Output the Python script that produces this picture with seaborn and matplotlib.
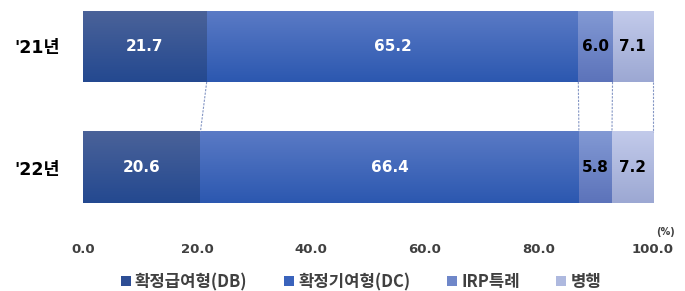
import matplotlib
matplotlib.use("Agg")
import matplotlib.pyplot as plt
import seaborn as sns
import numpy as np
import pandas as pd
from matplotlib.colors import to_rgb

years = ["'21년", "'22년"]
series = ["확정급여형(DB)", "확정기여형(DC)", "IRP특례", "병행"]
db = [21.7, 20.6]
dc = [65.2, 66.4]
irp = [6.0, 5.8]
both = [7.1, 7.2]
xticks = [0, 20, 40, 60, 80, 100]

colors = ["#2E4E95", "#3A63BC", "#6F87C9", "#AEB9DF"]
tops = ["#4A6299", "#5A7AC5", "#8299D4", "#C2CAEA"]
bottoms = ["#244990", "#2C58B0", "#5C73BA", "#9CA8D3"]
label_colors = ["white", "white", "black", "black"]

sns.set_theme(style="white")
plt.rcParams['font.family'] = ['DejaVu Sans', 'Noto Sans CJK KR']

vals = np.array([db, dc, irp, both])
cum = np.cumsum(vals, axis=0)

fig = plt.figure(figsize=(6.85, 2.91), dpi=100)
W, H = 685, 291
ax = fig.add_axes([83 / W, 1 - 232 / H, (653 - 83) / W, (232 - 5) / H])

bar_h = 71 / 121
for i in range(len(series) - 1, -1, -1):
    df = pd.DataFrame({"year": years, "value": cum[i]})
    sns.barplot(data=df, x="value", y="year", orient="h", color=colors[i],
                saturation=1, width=bar_h, ax=ax, linewidth=0, label=series[i])

# vertical gradient overlay on each segment
for i in range(len(series)):
    grad = np.linspace(0, 1, 64)[:, None, None]
    t = np.array(to_rgb(tops[i]))[None, None, :]
    b = np.array(to_rgb(bottoms[i]))[None, None, :]
    img = t * (1 - grad) + b * grad
    for j in range(len(years)):
        left = cum[i][j] - vals[i][j]
        ax.imshow(img, extent=(left, cum[i][j], j + bar_h / 2, j - bar_h / 2),
                  origin="upper", aspect="auto", interpolation="bilinear", zorder=2)

# value labels
for i in range(len(series)):
    for j in range(len(years)):
        left = cum[i][j] - vals[i][j]
        ax.text(left + vals[i][j] / 2, j, f"{vals[i][j]:.1f}", ha="center", va="center",
                color=label_colors[i], fontsize=11, fontweight="bold", zorder=4)

# dashed connectors
for i in range(len(series)):
    ax.plot([cum[i][0], cum[i][1]], [0 + bar_h / 2, 1 - bar_h / 2],
            color="#8496C4", lw=0.8, ls=(0, (2, 1.2)), zorder=3, clip_on=False)

ax.set_xlim(0, 100)
ax.set_ylim(1 + (232 - 167.5) / 121, -(46.5 - 5) / 121)
ax.set_xticks(xticks)
ax.set_xticklabels([f"{t:.1f}" for t in xticks], fontsize=9.5, fontweight="bold", color="#404040")
ax.set_yticks([0, 1])
ax.set_yticklabels(years, fontsize=12.5, fontweight="bold", color="black")
ax.tick_params(axis="x", length=0, pad=8)
ax.tick_params(axis="y", length=0, pad=17)
ax.set_xlabel("")
ax.set_ylabel("")
for s in ax.spines.values():
    s.set_visible(False)

fig.text(675 / W, 1 - 232 / H, "(%)", ha="right", va="center", fontsize=7,
         fontweight="bold", color="#404040")

handles, labels = ax.get_legend_handles_labels()
order = [labels.index(s) for s in series]
ax.legend([handles[k] for k in order], [labels[k] for k in order],
          loc="center", bbox_to_anchor=(361 / W, (1 - 282 / H)), bbox_transform=fig.transFigure,
          ncol=4, frameon=False, handlelength=0.6, handleheight=0.6, handletextpad=0.25,
          columnspacing=2.2,
          prop={"size": 12, "weight": "bold", "family": ["Noto Sans CJK KR", "DejaVu Sans"]},
          labelcolor="#404040")

fig.savefig("out.png", dpi=100)
